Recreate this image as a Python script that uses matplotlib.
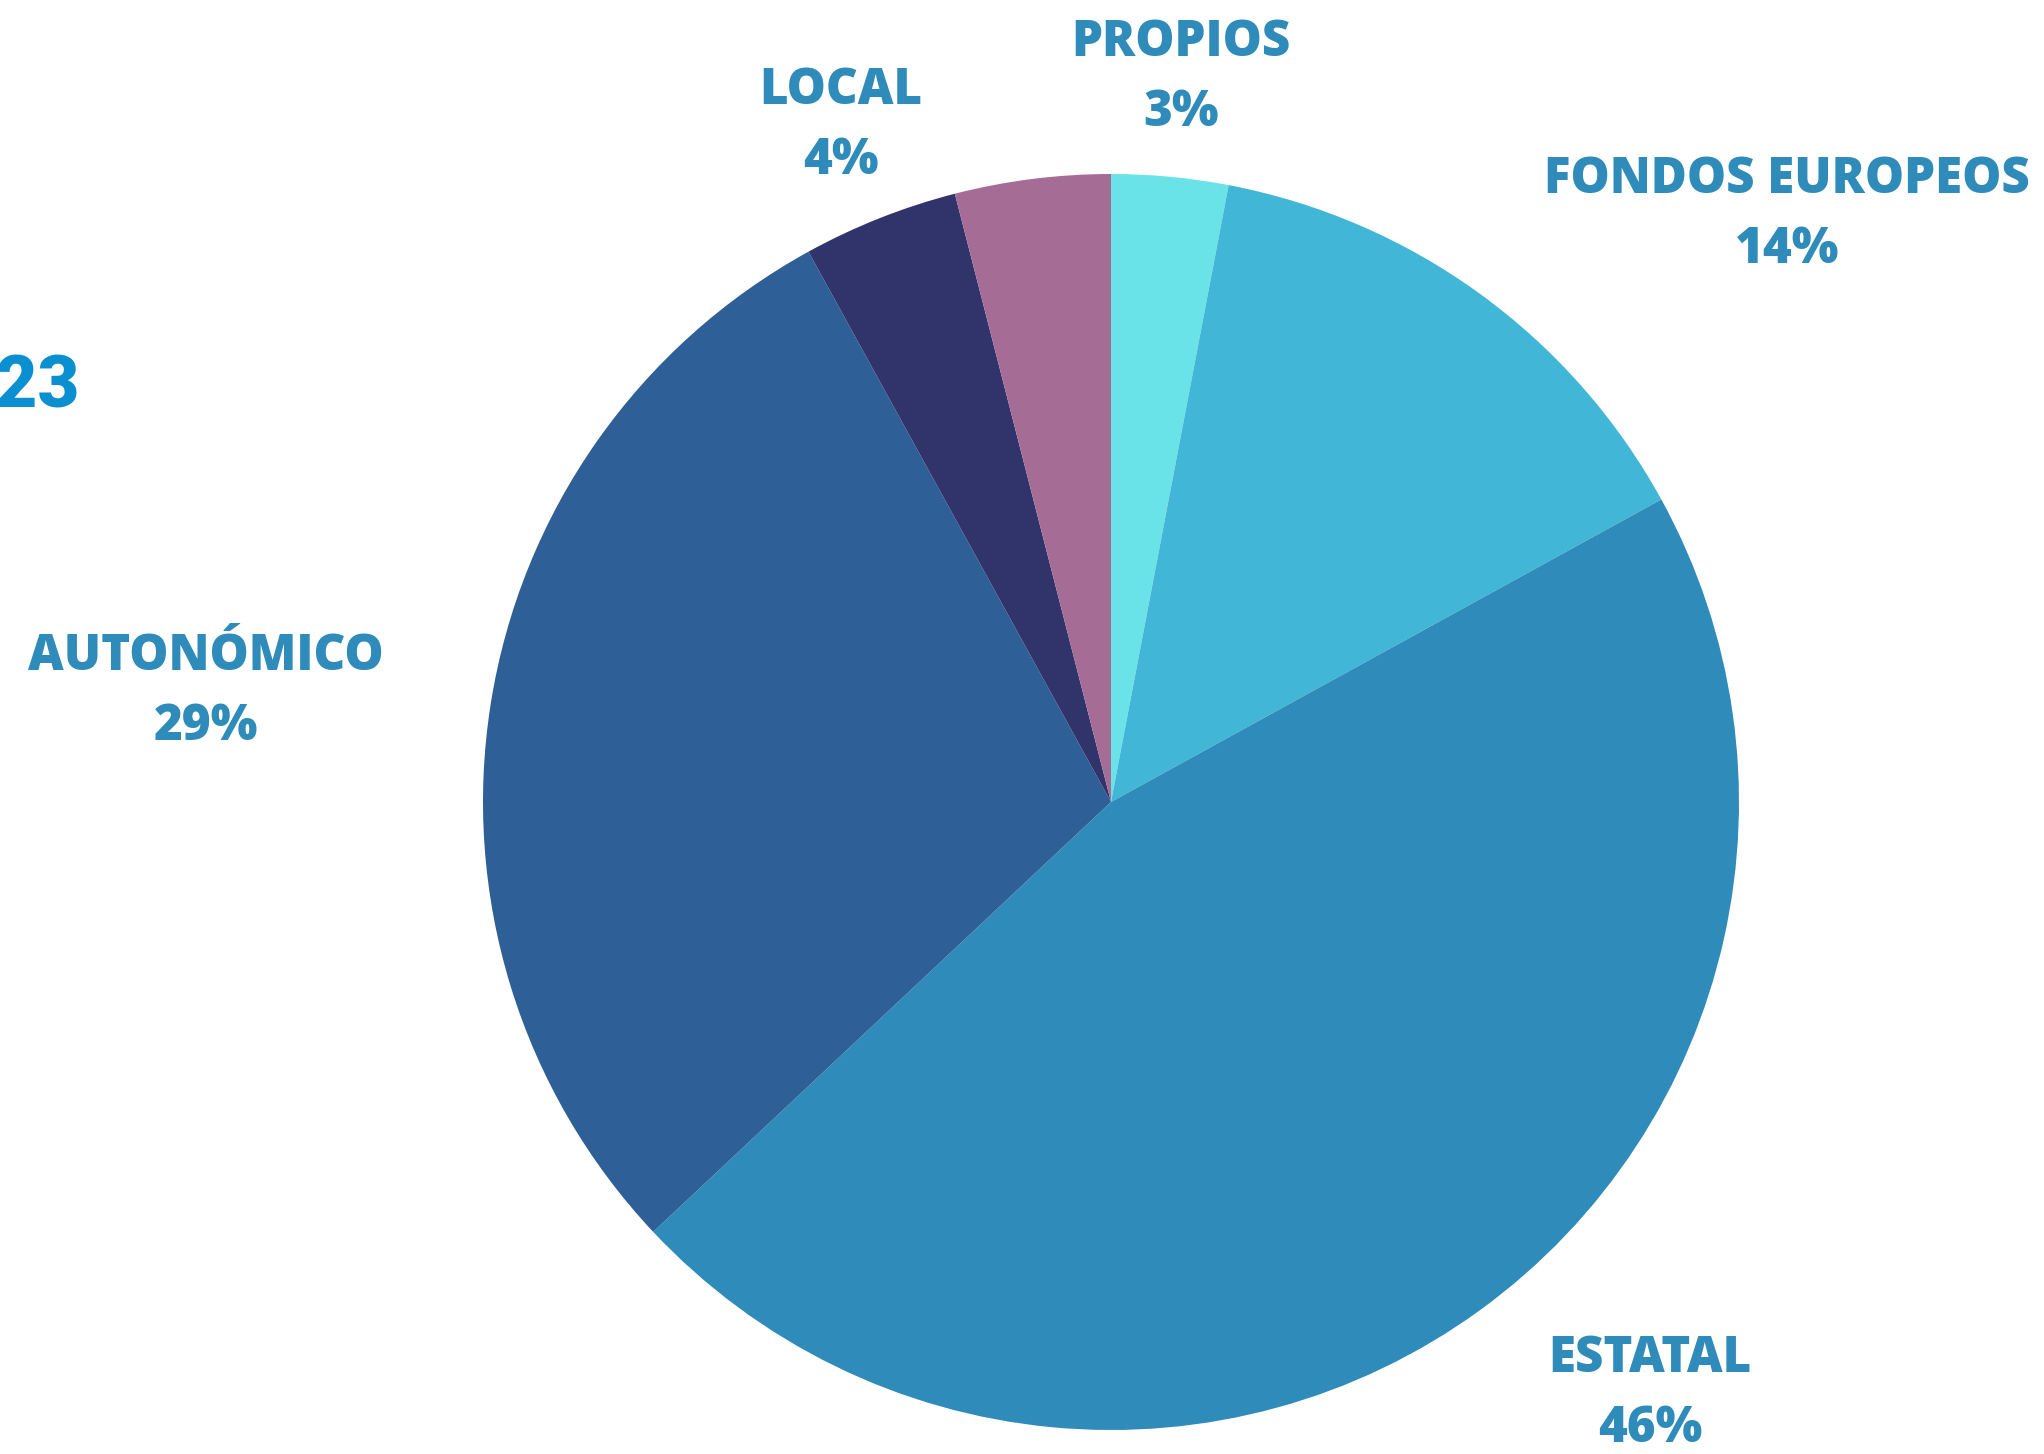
import matplotlib
matplotlib.use("Agg")
import matplotlib.pyplot as plt

categories = ["PROPIOS", "FONDOS EUROPEOS", "ESTATAL", "AUTONÓMICO", "LOCAL", ""]
values = [3, 14, 46, 29, 4, 4]
pct_labels = ["3%", "14%", "46%", "29%", "4%", ""]
colors = ["#6ae3e8", "#42b6d6", "#2e8bba", "#2e5f96", "#31346a", "#a56d96"]
# label anchor positions in pixels (x, y of name line centre)
label_pos = [(1181, 43), (1787, 180), (1650, 1359), (206, 657), (841, 91), None]

W, H = 2044, 1454
fig = plt.figure(figsize=(W / 100, H / 100), dpi=100)
fig.patch.set_facecolor("white")

cx, cy, r = 1111, 802, 628
ax = fig.add_axes([(cx - r) / W, (H - cy - r) / H, 2 * r / W, 2 * r / H])
ax.pie(values, colors=colors, startangle=90, counterclock=False,
       radius=1, wedgeprops=dict(linewidth=0))
ax.set_xlim(-1, 1)
ax.set_ylim(-1, 1)
ax.set_aspect("equal")
ax.axis("off")

label_color = "#2e8bba"
for name, pct, pos in zip(categories, pct_labels, label_pos):
    if pos is None or not name:
        continue
    x, y = pos
    fig.text(x / W, 1 - y / H, name, ha="center", va="center",
             fontsize=35.5, fontweight="heavy", family=["Open Sans", "DejaVu Sans"],
             color=label_color)
    fig.text(x / W, 1 - (y + 70) / H, pct, ha="center", va="center",
             fontsize=35.5, fontweight="heavy", family=["Open Sans", "DejaVu Sans"],
             color=label_color)

# partially visible title
fig.text(80 / W, 1 - 388 / H, "2023", ha="right", va="center",
         fontsize=52, fontweight="black", family=["Roboto", "DejaVu Sans"],
         color="#0a8fd0")

fig.savefig("out.png", dpi=100, facecolor="white")
